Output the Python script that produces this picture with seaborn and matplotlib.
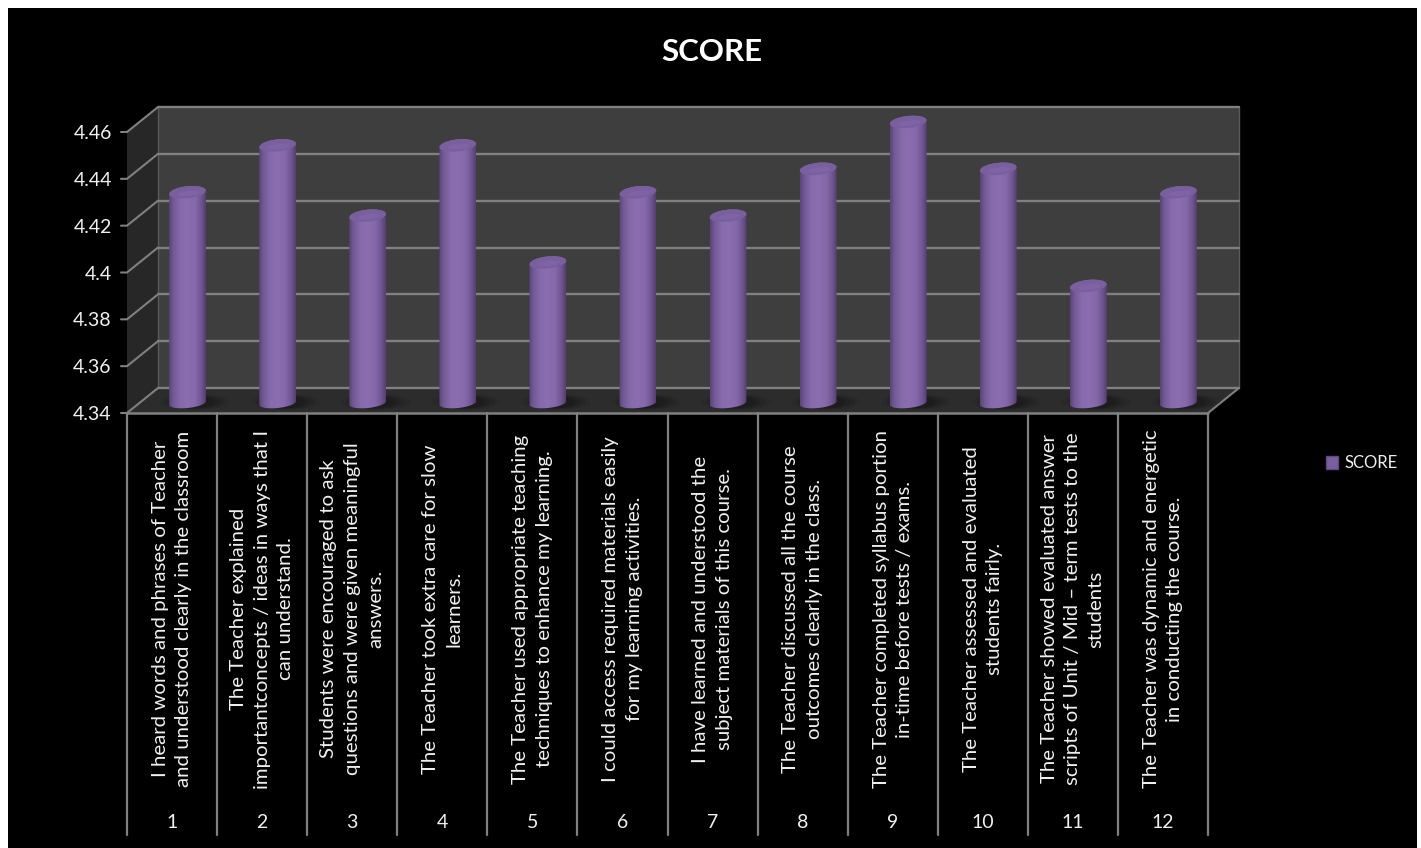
# Rebuild of the 3D-looking SCORE cylinder chart
import numpy as np
import matplotlib
matplotlib.use("Agg")
import matplotlib.pyplot as plt
import seaborn as sns
from matplotlib.colors import LinearSegmentedColormap
from matplotlib.patches import Ellipse, Patch, Polygon, Rectangle
from matplotlib.transforms import IdentityTransform

# Data
questions = [str(i) for i in range(1, 13)]
scores = [4.43, 4.45, 4.42, 4.45, 4.40, 4.43, 4.42, 4.44, 4.46, 4.44, 4.39, 4.43]
y_ticks = [4.34, 4.36, 4.38, 4.40, 4.42, 4.44, 4.46]
y_tick_labels = ["4.34", "4.36", "4.38", "4.4", "4.42", "4.44", "4.46"]
descriptions = [
    "I heard words and phrases of Teacher\nand understood clearly in the classroom",
    "The Teacher explained\nimportantconcepts / ideas in ways that I\ncan understand.",
    "Students were encouraged to ask\nquestions and were given meaningful\nanswers.",
    "The Teacher took extra care for slow\nlearners.",
    "The Teacher used appropriate teaching\ntechniques to enhance my learning.",
    "I could access required materials easily\nfor my learning activities.",
    "I have learned and understood the\nsubject materials of this course.",
    "The Teacher discussed all the course\noutcomes clearly in the class.",
    "The Teacher completed syllabus portion\nin-time before tests / exams.",
    "The Teacher assessed and evaluated\nstudents fairly.",
    "The Teacher showed evaluated answer\nscripts of Unit / Mid \u2013 term tests to the\nstudents",
    "The Teacher was dynamic and energetic\nin conducting the course.",
]

# Layout in pixels, y going down
W, H = 1421, 848
left, right, top, bottom = 127, 1208, 132, 413
depth_x, depth_y = 31, 25
line_color = "#808080"
text_color = "#f0f0f0"
font = "Lato"

sns.set_theme(style="white")
plt.rcParams["font.family"] = font


def add_axes_px(dx=0, dy=0):
    return fig.add_axes([(left + dx) / W, 1 - (bottom + dy) / H,
                         (right - left) / W, (bottom - top) / H])


def setup_scale(ax):
    ax.set_xlim(-0.5, len(questions) - 0.5)
    ax.set_ylim(y_ticks[0], y_ticks[-1])
    ax.patch.set_visible(False)
    sns.despine(ax=ax, left=True, bottom=True)
    ax.set_xlabel("")
    ax.set_ylabel("")


def y_px(v):
    return bottom - (v - y_ticks[0]) / (y_ticks[-1] - y_ticks[0]) * (bottom - top)


fig = plt.figure(figsize=(W / 100, H / 100), dpi=100, facecolor="white")

# Black panel, walls and floor
bg = fig.add_axes([0, 0, 1, 1])
bg.set_xlim(0, W)
bg.set_ylim(H, 0)
bg.axis("off")
bg.add_patch(Rectangle((8, 8), W - 12, H - 8, color="black", lw=0))
bg.add_patch(Polygon([(left + depth_x, top - depth_y), (right + depth_x, top - depth_y),
                      (right + depth_x, bottom - depth_y), (left + depth_x, bottom - depth_y)],
                     color="#3e3e3e", lw=0))
bg.add_patch(Polygon([(left, top), (left + depth_x, top - depth_y),
                      (left + depth_x, bottom - depth_y), (left, bottom)],
                     color="#272727", lw=0))
bg.add_patch(Polygon([(left, bottom), (left + depth_x, bottom - depth_y),
                      (right + depth_x, bottom - depth_y), (right, bottom)],
                     color="#2c2c2c", lw=0))
for v in y_ticks:
    bg.plot([left - 6, left, left + depth_x], [y_px(v), y_px(v), y_px(v) - depth_y],
            color=line_color, lw=1.5, solid_joinstyle="miter")
bg.plot([left + depth_x, left + depth_x], [top - depth_y, bottom - depth_y], color="#5a5a5a", lw=1)
bg.plot([right, right + depth_x], [bottom, bottom - depth_y], color=line_color, lw=1.5)
bg.plot([right + depth_x, right + depth_x], [top - depth_y, bottom - depth_y], color="#5a5a5a", lw=1)

# Gridlines on the back wall
wall = add_axes_px(depth_x, -depth_y)
setup_scale(wall)
wall.set_xticks([])
wall.set_yticks(y_ticks)
wall.set_yticklabels([])
wall.tick_params(length=0)
wall.grid(axis="y", color=line_color, lw=1.7, clip_on=False)
wall.set_axisbelow(True)
for sp in wall.spines.values():
    sp.set_visible(False)

# Cylinders sit half way into the depth
bars = add_axes_px(15.5, -10)
sns.barplot(x=questions, y=scores, color="#8064a2", width=0.41, ax=bars)
setup_scale(bars)
bars.set_xticks([])
bars.set_yticks([])
bars.grid(False)
for sp in bars.spines.values():
    sp.set_visible(False)

body_cmap = LinearSegmentedColormap.from_list(
    "body", [(0, "#5a4478"), (0.12, "#725a94"), (0.3, "#866aac"), (0.5, "#8b6eb0"),
             (0.72, "#8468aa"), (0.88, "#6e5590"), (1, "#553f72")])
gradient = np.linspace(0, 1, 128).reshape(1, -1)
tilt = np.deg2rad(6)


def ellipse_pts(cx, cy, a, b, t):
    return np.column_stack([cx + a * np.cos(t) * np.cos(tilt) - b * np.sin(t) * np.sin(tilt),
                            cy + a * np.cos(t) * np.sin(tilt) + b * np.sin(t) * np.cos(tilt)])


fig.canvas.draw()
for p, score in zip(list(bars.patches), scores):
    p.set_visible(False)
    x0, x1 = p.get_x(), p.get_x() + p.get_width()
    (px0, base), (px1, _) = bars.transData.transform([(x0, y_ticks[0]), (x1, y_ticks[0])])
    (_, crown) = bars.transData.transform((x0, score))
    cx, a = (px0 + px1) / 2, (px1 - px0) / 2

    # Soft shadow on the floor
    for grow, alpha in zip([1.9, 1.6, 1.3, 1.05], [0.08, 0.12, 0.15, 0.18]):
        bars.add_patch(Ellipse((cx + 8, base + 1), 2 * a * grow, 13 * (0.6 + grow / 3),
                               facecolor="#101010", alpha=alpha, lw=0,
                               transform=IdentityTransform(), clip_on=False, zorder=1))

    outline = np.vstack([ellipse_pts(cx, base, a, 5, np.linspace(np.pi, 2 * np.pi, 40)),
                         ellipse_pts(cx, crown, a, 6, np.linspace(0, np.pi, 40))])
    im = bars.imshow(gradient, cmap=body_cmap, aspect="auto", zorder=2,
                     extent=(x0, x1, y_ticks[0] - 0.01, score + 0.01))
    im.set_clip_box(fig.bbox)
    im.set_clip_path(Polygon(outline, transform=IdentityTransform()))

    bars.add_patch(Ellipse((cx, crown), 2 * a, 12, angle=6, facecolor="#7a5f9f", lw=0,
                           transform=IdentityTransform(), clip_on=False, zorder=3))
    bars.add_patch(Ellipse((cx + 1, crown - 1), 1.2 * a, 5, angle=6, facecolor="#8468aa", alpha=0.6, lw=0,
                           transform=IdentityTransform(), clip_on=False, zorder=4))
setup_scale(bars)

# Front axis with the table style labels
front = add_axes_px()
setup_scale(front)
front.set_yticks(y_ticks)
front.set_yticklabels(y_tick_labels, color=text_color, fontsize=14)
front.tick_params(axis="y", length=0, pad=11)
front.set_xticks([])
tr = front.get_xaxis_transform()
label_y = -(609 - bottom) / (bottom - top)
number_y = -(822 - bottom) / (bottom - top)
line_y = -(835 - bottom) / (bottom - top)
for i in range(len(questions) + 1):
    front.plot([i - 0.5, i - 0.5], [0, line_y], transform=tr, color=line_color, lw=1.6, clip_on=False)
front.plot([-0.5, len(questions) - 0.5], [0, 0], transform=tr, color=line_color, lw=1.8, clip_on=False)
for i, (num, text) in enumerate(zip(questions, descriptions)):
    front.text(i, label_y, text, transform=tr, rotation=90, ha="center", va="center",
               multialignment="center", color=text_color, fontsize=14.7, linespacing=1.45)
    front.text(i, number_y, num, transform=tr, ha="center", va="center",
               color=text_color, fontsize=14)
setup_scale(front)

fig.text(712 / W, 1 - 52 / H, "SCORE", color="white", fontsize=22.5, fontweight="bold",
         ha="center", va="center", family=font)
fig.legend(handles=[Patch(facecolor="#7a5f9e", edgecolor="#5d4880", label="SCORE")],
           loc="center left", bbox_to_anchor=(1326 / W, 1 - 463.5 / H), frameon=False,
           labelcolor=text_color, fontsize=12, handlelength=0.7, handleheight=0.8,
           handletextpad=0.4, borderpad=0, borderaxespad=0)

plt.savefig("out.png", dpi=100, facecolor="white")
